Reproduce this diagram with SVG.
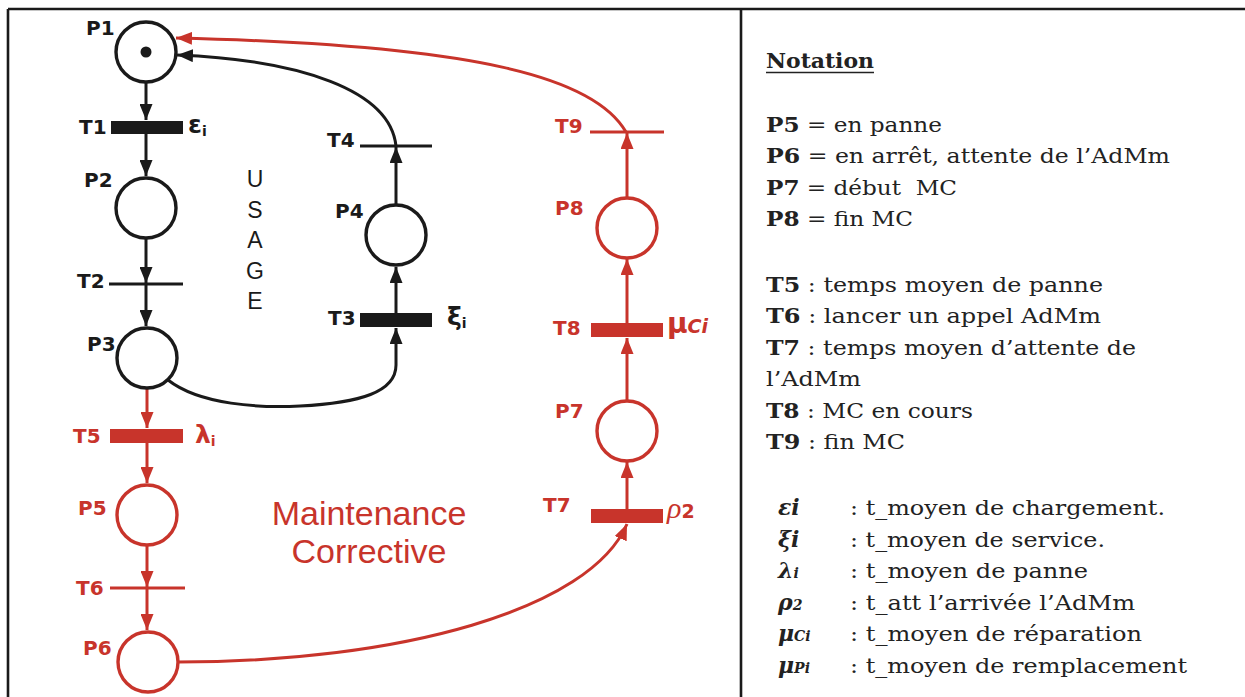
<svg xmlns="http://www.w3.org/2000/svg" width="1245" height="697" viewBox="0 0 1245 697">
<defs>
<style>
.bk{stroke:#1a1a1a;fill:none;stroke-width:3}
.rd{stroke:#c8342b;fill:none;stroke-width:3}
.pl{fill:#fff;stroke-width:3.4}
.tb{fill:#1a1a1a}
.tr{fill:#c8342b}
.lb{font-family:"DejaVu Sans",sans-serif;font-weight:bold;font-size:20px}
.gr{font-family:"DejaVu Sans",sans-serif;font-weight:bold;font-size:25px}
.lk{fill:#1a1a1a}
.lr{fill:#c8342b}
.nt{font-family:"DejaVu Serif",serif;font-size:21px;fill:#222}
.nb{font-weight:bold}
.sym{font-family:"DejaVu Serif",serif;font-size:22px;font-weight:bold;font-style:italic;fill:#222}
.sub{font-size:14px}
</style>
<marker id="ak" viewBox="0 0 16 13" refX="16" refY="6.5" markerWidth="16" markerHeight="13" markerUnits="userSpaceOnUse" orient="auto"><path d="M0,0 L16,6.5 L0,13 z" fill="#1a1a1a"/></marker>
<marker id="ar" viewBox="0 0 16 13" refX="16" refY="6.5" markerWidth="16" markerHeight="13" markerUnits="userSpaceOnUse" orient="auto"><path d="M0,0 L16,6.5 L0,13 z" fill="#c8342b"/></marker>
</defs>
<rect width="1245" height="697" fill="#fff"/>
<g id="frame" stroke="#1a1a1a" stroke-width="2.6" fill="none">
<line x1="8" y1="9" x2="1245" y2="9"/>
<line x1="8" y1="9" x2="8" y2="697"/>
<line x1="741" y1="9" x2="741" y2="697"/>
</g>
<g id="connectors">
<line class="bk" x1="146" y1="83" x2="146" y2="120" marker-end="url(#ak)"/>
<line class="bk" x1="146" y1="134" x2="146" y2="176" marker-end="url(#ak)"/>
<line class="bk" x1="146" y1="239" x2="146" y2="283" marker-end="url(#ak)"/>
<line class="bk" x1="146" y1="284" x2="146" y2="326" marker-end="url(#ak)"/>
<line class="rd" x1="147" y1="389" x2="147" y2="428" marker-end="url(#ar)"/>
<line class="rd" x1="147" y1="443" x2="147" y2="483" marker-end="url(#ar)"/>
<line class="rd" x1="147" y1="546" x2="147" y2="587" marker-end="url(#ar)"/>
<line class="rd" x1="147" y1="588" x2="147" y2="630" marker-end="url(#ar)"/>
<path class="rd" d="M178,662 C400,662 590,610 627,524" marker-end="url(#ar)"/>
<line class="rd" x1="627" y1="509" x2="627" y2="462" marker-end="url(#ar)"/>
<line class="rd" x1="627" y1="401" x2="627" y2="338" marker-end="url(#ar)"/>
<line class="rd" x1="627" y1="323" x2="627" y2="259" marker-end="url(#ar)"/>
<line class="rd" x1="627" y1="198" x2="627" y2="133" marker-end="url(#ar)"/>
<path class="rd" d="M626,132 C595,78 480,45 176,38" marker-end="url(#ar)"/>
<path class="bk" d="M396,146 C390,90 300,60 177,55" marker-end="url(#ak)"/>
<line class="bk" x1="396" y1="313" x2="396" y2="267" marker-end="url(#ak)"/>
<line class="bk" x1="396" y1="204" x2="396" y2="147" marker-end="url(#ak)"/>
<path class="bk" d="M168,380 C200,405 260,408 300,406 C360,403 396,392 396,365 L396,328" marker-end="url(#ak)"/>
</g>
<g id="P1"><circle class="bk pl" cx="146" cy="52" r="30"/><circle cx="146" cy="52" r="5.5" fill="#1a1a1a"/><text class="lb lk" x="86" y="35">P1</text></g>
<g id="T1"><rect class="tb" x="111" y="121" width="72" height="13"/><text class="lb lk" x="79" y="134">T1</text><text class="gr lk" x="188" y="133">ε<tspan class="sub" dy="3">i</tspan></text></g>
<g id="P2"><circle class="bk pl" cx="146" cy="208" r="30"/><text class="lb lk" x="84" y="187">P2</text></g>
<g id="T2"><line class="bk" x1="109" y1="284" x2="183" y2="284"/><text class="lb lk" x="77" y="288">T2</text></g>
<g id="P3"><circle class="bk pl" cx="147" cy="358" r="30"/><text class="lb lk" x="87" y="351">P3</text></g>
<g id="usage"><text font-family="Liberation Sans,Arial,sans-serif" font-size="23" fill="#1a1a1a" text-anchor="middle"><tspan x="255" y="187">U</tspan><tspan x="255" y="218">S</tspan><tspan x="255" y="248">A</tspan><tspan x="255" y="279">G</tspan><tspan x="255" y="309">E</tspan></text></g>
<g id="T4"><line class="bk" x1="360" y1="146" x2="432" y2="146"/><text class="lb lk" x="327" y="147">T4</text></g>
<g id="P4"><circle class="bk pl" cx="396" cy="235" r="30"/><text class="lb lk" x="335" y="218">P4</text></g>
<g id="T3"><rect class="tb" x="360" y="313" width="72" height="14"/><text class="lb lk" x="328" y="325">T3</text><text class="gr lk" x="447" y="325">ξ<tspan class="sub" dy="3">i</tspan></text></g>
<g id="T5"><rect class="tr" x="110" y="429" width="73" height="14"/><text class="lb lr" x="73" y="443">T5</text><text class="gr lr" x="195" y="443">λ<tspan class="sub" dy="3">i</tspan></text></g>
<g id="P5"><circle class="rd pl" cx="147" cy="515" r="30"/><text class="lb lr" x="78" y="515">P5</text></g>
<g id="T6"><line class="rd" x1="110" y1="588" x2="185" y2="588"/><text class="lb lr" x="76" y="595">T6</text></g>
<g id="P6"><circle class="rd pl" cx="148" cy="662" r="30"/><text class="lb lr" x="83" y="655">P6</text></g>
<g id="mc"><text font-family="Liberation Sans,Arial,sans-serif" font-size="34" fill="#c8342b" text-anchor="middle"><tspan x="369" y="525">Maintenance</tspan><tspan x="369" y="563">Corrective</tspan></text></g>
<g id="T7"><rect class="tr" x="591" y="509" width="72" height="14"/><text class="lb lr" x="543" y="512">T7</text><text x="667" y="518" fill="#c8342b"><tspan font-family="Liberation Serif,serif" font-style="italic" font-size="30">ρ</tspan><tspan font-family="DejaVu Sans,sans-serif" font-weight="bold" font-size="19">2</tspan></text></g>
<g id="P7"><circle class="rd pl" cx="627" cy="431" r="30"/><text class="lb lr" x="555" y="418">P7</text></g>
<g id="T8"><rect class="tr" x="591" y="323" width="72" height="14"/><text class="lb lr" x="553" y="335">T8</text><text x="667" y="333" fill="#c8342b" font-family="DejaVu Sans,sans-serif" font-weight="bold"><tspan font-size="28">μ</tspan><tspan font-size="19" font-style="italic">Ci</tspan></text></g>
<g id="P8"><circle class="rd pl" cx="627" cy="228" r="30"/><text class="lb lr" x="555" y="215">P8</text></g>
<g id="T9"><line class="rd" x1="590" y1="132" x2="664" y2="132"/><text class="lb lr" x="555" y="133">T9</text></g>
<g id="notation">
<text class="nt nb" x="766" y="68" textLength="108" lengthAdjust="spacingAndGlyphs">Notation</text>
<line x1="766" y1="72.5" x2="874" y2="72.5" stroke="#222" stroke-width="1.5"/>
<text class="nt" x="766" y="132" textLength="176" lengthAdjust="spacingAndGlyphs"><tspan class="nb">P5</tspan> = en panne</text>
<text class="nt" x="766" y="163" textLength="404" lengthAdjust="spacingAndGlyphs"><tspan class="nb">P6</tspan> = en arrêt, attente de l’AdMm</text>
<text class="nt" x="766" y="195" textLength="191" lengthAdjust="spacingAndGlyphs" xml:space="preserve"><tspan class="nb">P7</tspan> = début  MC</text>
<text class="nt" x="766" y="226" textLength="147" lengthAdjust="spacingAndGlyphs"><tspan class="nb">P8</tspan> = fin MC</text>
<text class="nt" x="766" y="292" textLength="337" lengthAdjust="spacingAndGlyphs"><tspan class="nb">T5</tspan> : temps moyen de panne</text>
<text class="nt" x="766" y="323" textLength="335" lengthAdjust="spacingAndGlyphs"><tspan class="nb">T6</tspan> : lancer un appel AdMm</text>
<text class="nt" x="766" y="355" textLength="370" lengthAdjust="spacingAndGlyphs"><tspan class="nb">T7</tspan> : temps moyen d’attente de</text>
<text class="nt" x="766" y="386" textLength="95" lengthAdjust="spacingAndGlyphs">l’AdMm</text>
<text class="nt" x="766" y="418" textLength="207" lengthAdjust="spacingAndGlyphs"><tspan class="nb">T8</tspan> : MC en cours</text>
<text class="nt" x="766" y="449" textLength="139" lengthAdjust="spacingAndGlyphs"><tspan class="nb">T9</tspan> : fin MC</text>
<text class="sym" x="778" y="515">εi</text>
<text class="sym" x="778" y="547">ξi</text>
<text class="sym" x="778" y="578">λ<tspan class="sub">i</tspan></text>
<text class="sym" x="778" y="610">ρ<tspan class="sub">2</tspan></text>
<text class="sym" x="778" y="641">μ<tspan class="sub">Ci</tspan></text>
<text class="sym" x="778" y="673">μ<tspan class="sub">Pi</tspan></text>
<text class="nt" x="850" y="515" textLength="315" lengthAdjust="spacingAndGlyphs">: t_moyen de chargement.</text>
<text class="nt" x="850" y="547" textLength="255" lengthAdjust="spacingAndGlyphs">: t_moyen de service.</text>
<text class="nt" x="850" y="578" textLength="238" lengthAdjust="spacingAndGlyphs">: t_moyen de panne</text>
<text class="nt" x="850" y="610" textLength="285" lengthAdjust="spacingAndGlyphs">: t_att l’arrivée l’AdMm</text>
<text class="nt" x="850" y="641" textLength="292" lengthAdjust="spacingAndGlyphs">: t_moyen de réparation</text>
<text class="nt" x="850" y="673" textLength="337" lengthAdjust="spacingAndGlyphs">: t_moyen de remplacement</text>
</g>
</svg>
